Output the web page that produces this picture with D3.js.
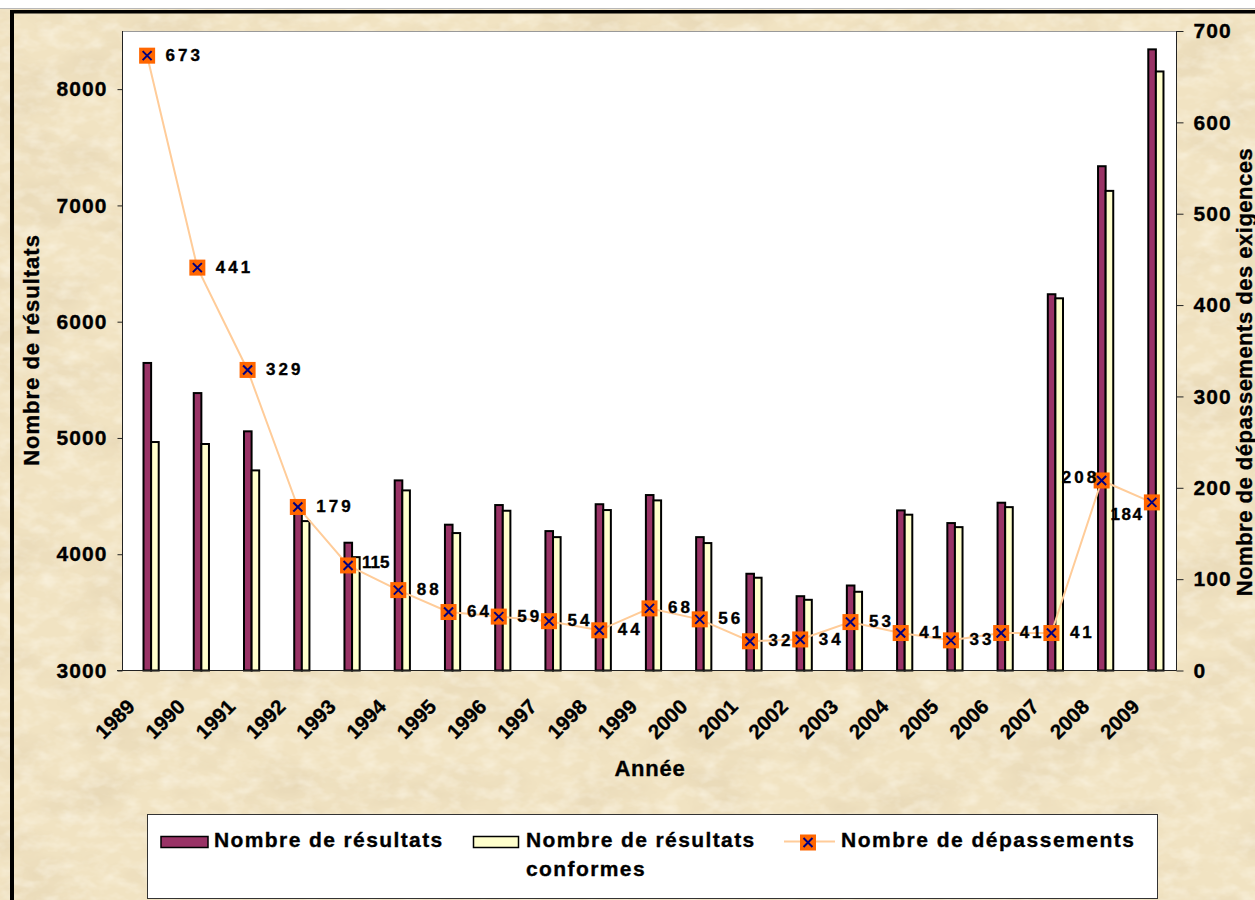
<!doctype html>
<html>
<head>
<meta charset="utf-8">
<style>
  body { margin: 0; background: #fff; }
  svg { display: block; font-family: "Liberation Sans", Arial, sans-serif; font-weight: bold; }
  svg text { stroke: #000; stroke-width: 0.35px; }
</style>
<script src="https://d3js.org/d3.v7.min.js"></script>
</head>
<body>
<svg width="1255" height="900" id="chart"></svg>
<script>
// data
var years = ["1989","1990","1991","1992","1993","1994","1995","1996","1997","1998","1999",
             "2000","2001","2002","2003","2004","2005","2006","2007","2008","2009"];
var resultats = [5645, 5386, 5057, 4460, 4099, 4635, 4254, 4423, 4199, 4430, 4509,
                 4147, 3832, 3639, 3731, 4377, 4268, 4443, 6236, 7337, 8342];
var conformes = [4965, 4948, 4721, 4285, 3975, 4549, 4182, 4374, 4147, 4380, 4463,
                 4096, 3798, 3608, 3677, 4340, 4233, 4405, 6201, 7125, 8152];
var depassements = [673, 441, 329, 179, 115, 88, 64, 59, 54, 44, 68,
                    56, 32, 34, 53, 41, 33, 41, 41, 208, 184];
var leftTicks = [3000, 4000, 5000, 6000, 7000, 8000];
var rightTicks = [0, 100, 200, 300, 400, 500, 600, 700];
var seriesNames = ["Nombre de résultats", "Nombre de résultats conformes", "Nombre de dépassements"];

var svg = d3.select("#chart");
var W = 1255, H = 900;
var pLeft = 122, pRight = 1176, pTop = 31, pBottom = 670.5;

// paper background
var defs = svg.append("defs");
var f = defs.append("filter").attr("id", "paper")
    .attr("x", 0).attr("y", 0).attr("width", "100%").attr("height", "100%");
f.append("feTurbulence").attr("type", "fractalNoise").attr("baseFrequency", "0.012 0.022")
    .attr("numOctaves", 5).attr("seed", 7).attr("result", "n");
f.append("feColorMatrix").attr("in", "n").attr("type", "matrix")
    .attr("values", "0 0 0 0 0.72  0 0 0 0 0.60  0 0 0 0 0.40  1.0 0 0 0 -0.42");
var f2 = defs.append("filter").attr("id", "paper2")
    .attr("x", 0).attr("y", 0).attr("width", "100%").attr("height", "100%");
f2.append("feTurbulence").attr("type", "fractalNoise").attr("baseFrequency", "0.05 0.08")
    .attr("numOctaves", 3).attr("seed", 21).attr("result", "n");
f2.append("feColorMatrix").attr("in", "n").attr("type", "matrix")
    .attr("values", "0 0 0 0 1  0 0 0 0 0.97  0 0 0 0 0.88  1.0 0 0 0 -0.42");

svg.append("rect").attr("width", W).attr("height", H).attr("fill", "#F1E3C2");
svg.append("rect").attr("width", W).attr("height", H).attr("filter", "url(#paper)");
svg.append("rect").attr("width", W).attr("height", H).attr("filter", "url(#paper2)");

// frame
svg.append("rect").attr("x", 0).attr("y", 0).attr("width", W).attr("height", 8).attr("fill", "#fff");
svg.append("line").attr("x1", 0).attr("x2", W).attr("y1", 8.5).attr("y2", 8.5).attr("stroke", "#b8b8b8");
svg.append("rect").attr("x", 10).attr("y", 10).attr("width", W - 10).attr("height", 3.5).attr("fill", "#000");
svg.append("rect").attr("x", 10).attr("y", 10).attr("width", 4).attr("height", H - 10).attr("fill", "#000");

// plot area
svg.append("rect").attr("x", pLeft + 0.5).attr("y", pTop + 0.5)
    .attr("width", pRight - pLeft).attr("height", pBottom - pTop - 0.5)
    .attr("fill", "#fff").attr("stroke", "#999");

var x = d3.scaleBand().domain(years).range([pLeft, pRight + 1]);
var yL = d3.scaleLinear().domain([3000, 8500]).range([pBottom, pTop]);
var yR = d3.scaleLinear().domain([0, 700]).range([pBottom, pTop]);
var cx = function(d) { return x(d) + x.bandwidth() / 2; };

// bars
var g = svg.append("g");
g.selectAll(".bar1").data(years).enter().append("rect")
    .attr("x", function(d) { return cx(d) - 3.6; })
    .attr("y", function(d, i) { return yL(resultats[i]); })
    .attr("width", 7.6)
    .attr("height", function(d, i) { return pBottom - yL(resultats[i]); })
    .attr("fill", "#993366").attr("stroke", "#000").attr("stroke-width", 2);
g.selectAll(".bar2").data(years).enter().append("rect")
    .attr("x", function(d) { return cx(d) + 4; })
    .attr("y", function(d, i) { return yL(conformes[i]); })
    .attr("width", 7.6)
    .attr("height", function(d, i) { return pBottom - yL(conformes[i]); })
    .attr("fill", "#FFFFCC").attr("stroke", "#000").attr("stroke-width", 2);

// axes
var axL = svg.append("g").attr("transform", "translate(" + (pLeft + 0.5) + ",0)")
    .call(d3.axisLeft(yL).tickValues(leftTicks).tickSize(5).tickPadding(10));
var axR = svg.append("g").attr("transform", "translate(" + (pRight + 0.5) + ",0)")
    .call(d3.axisRight(yR).tickValues(rightTicks).tickSize(7).tickPadding(10));
[axL, axR].forEach(function(a) {
  a.select(".domain").attr("stroke", "#222");
  a.selectAll(".tick line").attr("stroke", "#222");
  a.selectAll(".tick text").attr("font-size", 21).attr("font-weight", "bold")
      .attr("font-family", "Liberation Sans, Arial, sans-serif")
      .attr("letter-spacing", 1.1).attr("fill", "#000");
});
axL.selectAll(".tick text").text(function(d) { return d; });
axL.select(".domain").attr("d", "M0," + pTop + "V" + pBottom);
axR.select(".domain").attr("d", "M0," + pTop + "V" + pBottom);
svg.append("line").attr("x1", pLeft - 5).attr("x2", pRight + 0.5)
    .attr("y1", pBottom).attr("y2", pBottom).attr("stroke", "#222");

// year labels
svg.append("g").selectAll("text").data(years).enter().append("text")
    .attr("transform", function(d) { return "translate(" + (cx(d) - 11) + ",708) rotate(-45)"; })
    .attr("text-anchor", "end").attr("font-size", 20.5)
    .text(function(d) { return d; });

// axis titles
svg.append("text").attr("transform", "translate(38.5,350) rotate(-90)")
    .attr("text-anchor", "middle").attr("font-size", 22).attr("letter-spacing", 1)
    .text("Nombre de résultats");
svg.append("text").attr("transform", "translate(1251.5,372) rotate(-90)")
    .attr("text-anchor", "middle").attr("font-size", 22).attr("letter-spacing", 0.5)
    .text("Nombre de dépassements des exigences");
svg.append("text").attr("x", 650).attr("y", 776)
    .attr("text-anchor", "middle").attr("font-size", 22).attr("letter-spacing", 0.8)
    .text("Année");

// line series
var line = d3.line()
    .x(function(d) { return cx(d); })
    .y(function(d, i) { return yR(depassements[i]); });
svg.append("path").datum(years).attr("d", line)
    .attr("fill", "none").attr("stroke", "#FFCC99").attr("stroke-width", 2);

function marker(sel) {
  sel.append("rect").attr("x", -8).attr("y", -8).attr("width", 16).attr("height", 16).attr("fill", "#FF6600");
  sel.append("path").attr("d", "M-4.5,-4.5L4.5,4.5M-4.5,4.5L4.5,-4.5")
      .attr("stroke", "#000080").attr("stroke-width", 2);
}
svg.append("g").selectAll("g").data(years).enter().append("g")
    .attr("transform", function(d, i) { return "translate(" + cx(d) + "," + yR(depassements[i]) + ")"; })
    .call(marker);

// value labels
var labelPos = {
  "1993": { dx: 14, dy: -3.3, anchor: "start", ls: 0 },
  "2008": { dx: -2.5, dy: -3.7, anchor: "end", ls: 3 },
  "2009": { dx: -8.5, dy: 11.3, anchor: "end", ls: 1.5 }
};
svg.append("g").selectAll("text").data(years).enter().append("text")
    .each(function(d, i) {
      var p = labelPos[d] || { dx: 18.5, dy: -1, anchor: "start", ls: 3 };
      d3.select(this)
        .attr("x", cx(d) + p.dx)
        .attr("y", yR(depassements[i]) + p.dy)
        .attr("dy", "0.36em")
        .attr("text-anchor", p.anchor)
        .attr("letter-spacing", p.ls)
        .attr("font-size", 17)
        .text(depassements[i]);
    });

// legend
var lg = svg.append("g");
lg.append("rect").attr("x", 147.5).attr("y", 814.5).attr("width", 1010).attr("height", 84)
    .attr("fill", "#fff").attr("stroke", "#333");
lg.append("rect").attr("x", 161).attr("y", 836.5).attr("width", 47).attr("height", 11)
    .attr("fill", "#993366").attr("stroke", "#000").attr("stroke-width", 1.5);
lg.append("text").attr("x", 214).attr("y", 847).attr("font-size", 21).attr("letter-spacing", 1.4)
    .text(seriesNames[0]);
lg.append("rect").attr("x", 473.5).attr("y", 836.5).attr("width", 45).attr("height", 11)
    .attr("fill", "#FFFFCC").attr("stroke", "#000").attr("stroke-width", 1.5);
var t2 = lg.append("text").attr("font-size", 21).attr("letter-spacing", 1.4);
t2.append("tspan").attr("x", 526).attr("y", 847).text("Nombre de résultats");
t2.append("tspan").attr("x", 526).attr("y", 876).text("conformes");
lg.append("line").attr("x1", 784).attr("x2", 835).attr("y1", 841.5).attr("y2", 841.5)
    .attr("stroke", "#FFCC99").attr("stroke-width", 2);
lg.append("g").attr("transform", "translate(808,842.5)").call(marker);
lg.append("text").attr("x", 841).attr("y", 847).attr("font-size", 21).attr("letter-spacing", 1.5)
    .text(seriesNames[2]);
</script>
</body>
</html>
